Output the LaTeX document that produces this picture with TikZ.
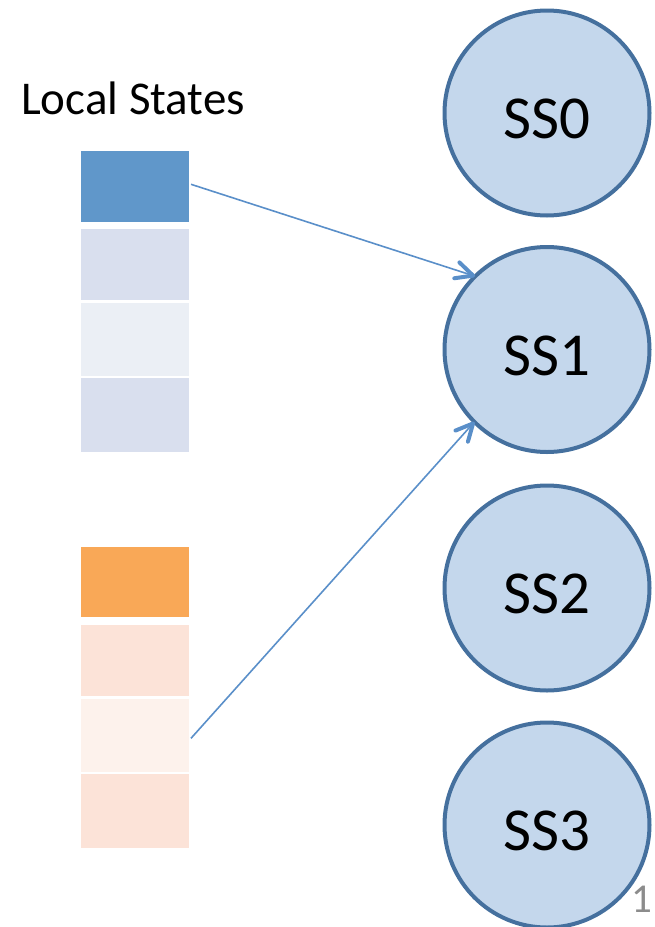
\documentclass[tikz,border=0pt]{standalone}
\usepackage{fontspec}
\setmainfont{Carlito}
\usetikzlibrary{calc}
\definecolor{ssfill}{HTML}{C4D7EC}
\definecolor{ssline}{HTML}{45709E}
\definecolor{bluedark}{HTML}{6097CA}
\definecolor{bluemid}{HTML}{D9DFEE}
\definecolor{bluelight}{HTML}{EBEFF5}
\definecolor{orangedark}{HTML}{F9A857}
\definecolor{orangemid}{HTML}{FCE3D8}
\definecolor{orangelight}{HTML}{FDF2EC}
\definecolor{linkcol}{HTML}{5A8FC9}
\definecolor{pagenum}{HTML}{8C8C8C}
\tikzset{
  slot/.style={rectangle, draw=none, inner sep=0pt, outer sep=0pt,
    minimum width=108pt},
  shard/.style={circle, fill=ssfill, draw=ssline, line width=4pt,
    minimum size=205pt, inner sep=0pt, font=\fontsize{61}{61}\selectfont,
    text height=51pt, text depth=0pt},
  link/.style={draw=linkcol, line width=1.6pt},
  barbhead/.style={draw=linkcol, line width=4pt, line cap=round,
    line join=round}
}
\begin{document}
\begin{tikzpicture}[x=1pt,y=-1pt]
  \useasboundingbox (0,0) rectangle (654,927);

  % heading
  \node[anchor=base west, inner sep=0pt, font=\fontsize{47}{47}\selectfont]
    (title) at (21,114) {Local States};

  % blue local-state slots
  \node[slot, fill=bluedark,  minimum height=70.7pt] (b1) at (135,186.3) {};
  \node[slot, fill=bluemid,   minimum height=70.7pt] (b2) at (135,264.7) {};
  \node[slot, fill=bluelight, minimum height=73.3pt] (b3) at (135,339.3) {};
  \node[slot, fill=bluemid,   minimum height=74pt]   (b4) at (135,415)   {};

  % orange local-state slots
  \node[slot, fill=orangedark,  minimum height=70.6pt] (o1) at (135,582)   {};
  \node[slot, fill=orangemid,   minimum height=70.7pt] (o2) at (135,660.3) {};
  \node[slot, fill=orangelight, minimum height=73.3pt] (o3) at (135,735.3) {};
  \node[slot, fill=orangemid,   minimum height=73.4pt] (o4) at (135,811)   {};

  % shared-state circles
  \node[shard] (ss0) at (547,113)   {SS0};
  \node[shard] (ss1) at (547,349.5) {SS1};
  \node[shard] (ss2) at (547,588)   {SS2};
  \node[shard] (ss3) at (547,825)   {SS3};

  % connector end points
  \coordinate (s1) at ([shift={(2pt,2pt)}]b1.east);
  \coordinate (t1) at (ss1.135);
  \coordinate (s2) at ([shift={(2pt,-3pt)}]o3.east);
  \coordinate (t2) at (ss1.225);

  % connectors with open barbed heads
  \draw[link] (s1) -- (t1);
  \draw[barbhead] ($(t1)!19pt!26:(s1)$) -- (t1) -- ($(t1)!19pt!-26:(s1)$);
  \draw[link] (s2) -- (t2);
  \draw[barbhead] ($(t2)!19pt!26:(s2)$) -- (t2) -- ($(t2)!19pt!-26:(s2)$);

  % page number
  \node[anchor=base west, inner sep=0pt, text=pagenum,
    font=\fontsize{41}{41}\selectfont] (pg) at (631,912) {1};
\end{tikzpicture}
\end{document}
